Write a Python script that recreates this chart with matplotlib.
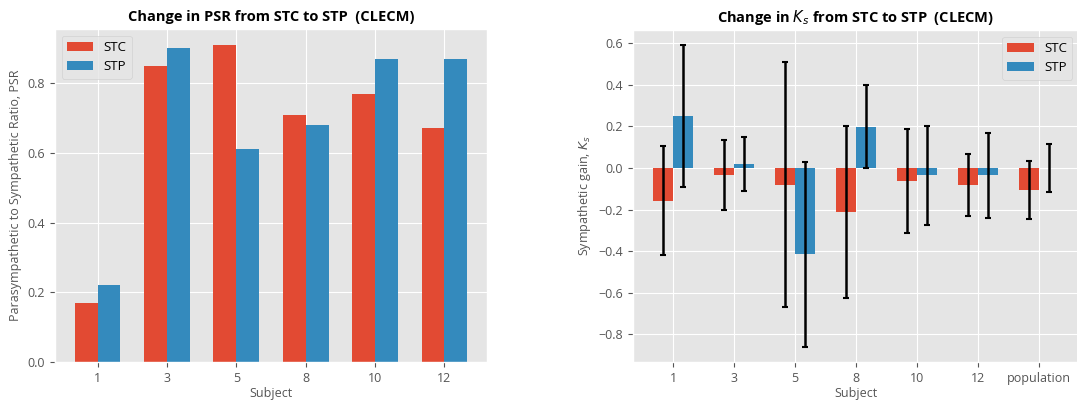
import numpy as np
import matplotlib
matplotlib.use('Agg')
import matplotlib.pyplot as plt

plt.style.use('ggplot')
plt.rcParams['font.family'] = ['Open Sans', 'DejaVu Sans']
plt.rcParams['mathtext.fontset'] = 'dejavusans'

# PSR data (left)
psr_subjects = ['1', '3', '5', '8', '10', '12']
psr_stc = [0.17, 0.85, 0.91, 0.71, 0.77, 0.67]
psr_stp = [0.22, 0.90, 0.61, 0.68, 0.87, 0.87]

# Ks data (right)
ks_subjects = ['1', '3', '5', '8', '10', '12', 'population']
ks_stc = [-0.158, -0.034, -0.080, -0.211, -0.064, -0.082, -0.106]
ks_stc_err = [0.263, 0.167, 0.589, 0.414, 0.249, 0.149, 0.138]
ks_stp = [0.250, 0.019, -0.416, 0.198, -0.035, -0.035, -0.002]
ks_stp_err = [0.341, 0.131, 0.445, 0.200, 0.238, 0.205, 0.115]

width = 0.33
W, H = 1077, 404

fig = plt.figure(figsize=(W / 100, H / 100), dpi=100)
ax1 = fig.add_axes([55 / W, 1 - 362 / H, (487 - 55) / W, (362 - 29) / H])
ax2 = fig.add_axes([633 / W, 1 - 362 / H, (1079 - 633) / W, (362 - 30) / H])

# ---- left: PSR ----
x = np.arange(len(psr_subjects))
ax1.bar(x - width / 2, psr_stc, width, label='STC')
ax1.bar(x + width / 2, psr_stp, width, label='STP')
ax1.set_xticks(x)
ax1.set_xticklabels(psr_subjects)
ax1.set_xlabel('Subject', fontsize=9, labelpad=2)
ax1.set_ylabel('Parasympathetic to Sympathetic Ratio, PSR', fontsize=9)
ax1.set_title('Change in PSR from STC to STP  (CLECM)', fontsize=10.5,
              fontweight='bold', color='black', pad=6)
ax1.legend(loc='upper left', fontsize=9.5)

# ---- right: Ks ----
x2 = np.arange(len(ks_subjects))
err_kw = dict(ecolor='black', elinewidth=1.8, capsize=2, capthick=1.5)
ax2.bar(x2 - width / 2, ks_stc, width, yerr=ks_stc_err, label='STC', error_kw=err_kw)
ax2.bar(x2 + width / 2, ks_stp, width, yerr=ks_stp_err, label='STP', error_kw=err_kw)
ax2.set_xticks(x2)
ax2.set_xticklabels(ks_subjects)
ax2.set_xlabel('Subject', fontsize=9, labelpad=2)
ax2.set_ylabel('Sympathetic gain, $K_s$', fontsize=9)
ax2.set_title('Change in $K_s$ from STC to STP  (CLECM)', fontsize=10.5,
              fontweight='bold', color='black', pad=6)
ax2.legend(loc='upper right', fontsize=9.5)

for ax in (ax1, ax2):
    ax.tick_params(labelsize=9)

fig.savefig('out.png', dpi=100)
